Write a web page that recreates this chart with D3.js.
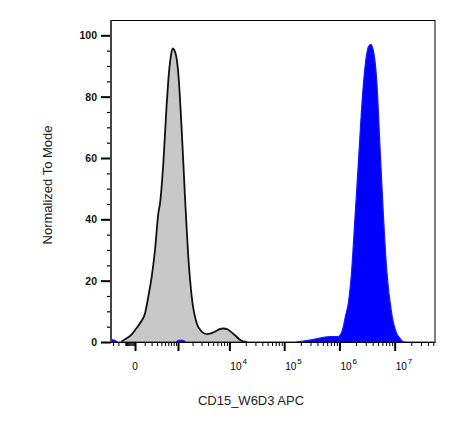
<!DOCTYPE html>
<html>
<head>
<meta charset="utf-8">
<script src="https://cdn.jsdelivr.net/npm/d3@7"></script>
<style>
  body { margin: 0; background: #fff; }
  svg { display: block; }
  text { font-family: Arial, "Liberation Sans", sans-serif; }
</style>
</head>
<body>
<div id="chart"></div>
<script>
// grey histogram (unstained / control), x in channel units, y in % of mode
var greyX = [-158, -83, -29, 8.5, 46, 103, 148, 201, 260, 328, 367, 450, 549, 601, 685, 762, 904, 1015, 1200, 1406, 1643, 1924, 2416, 3020, 3768, 4546, 5406, 6423, 7720, 9040, 10720, 12700, 15050, 18000, 21100];
var greyY = [0, 1.2, 2.5, 4.3, 6.1, 9.3, 14.8, 21.3, 30, 41.9, 45.2, 58.2, 77.7, 85.3, 92.9, 95.7, 93.5, 87.5, 69, 47.3, 27.8, 14.8, 6.1, 3.4, 2.6, 2.8, 3.4, 4.1, 4.4, 4.2, 3.3, 2.2, 1.0, 0.2, 0];

// blue histogram (CD15 stained)
var blueX = [-344, -280, -206, 904, 1000, 1160, 1340, 1475, 156900, 221800, 332600, 511000, 704000, 955000, 1091000, 1177000, 1290000, 1449000, 1669000, 1916000, 2199000, 2534000, 2908000, 3337000, 3688000, 4108000, 4733000, 5431000, 6232000, 7180000, 8840000, 10890000, 12500000, 14340000, 16730000, 53700000];
var blueY = [0.8, 0.6, 0, 0, 0.5, 0.6, 0.4, 0, 0, 0.3, 0.8, 1.5, 1.8, 1.8, 3, 5, 8.5, 12.6, 23.5, 40.8, 58.2, 76.6, 89.7, 96.2, 97.1, 95.1, 85.3, 63.6, 41.9, 23.5, 9.3, 2.8, 1.2, 0.1, 0, 0];

var yMajor = [0, 20, 40, 60, 80, 100];
var xMajor = [0, 1e3, 1e4, 1e5, 1e6, 1e7];
var xLabelValues = [0, 1e4, 1e5, 1e6, 1e7];
var xLabelExps = ["", "4", "5", "6", "7"];
var xTitle = "CD15_W6D3 APC";
var yTitle = "Normalized To Mode";

var size = {width: 475, height: 430, left: 111, right: 435, top: 20, bottom: 342};

var xScale = d3.scaleSymlog().constant(200)
  .domain([-344, 5.37e7])
  .range([size.left, size.right]);
var yScale = d3.scaleLinear()
  .domain([0, 105])
  .range([size.bottom, size.top]);

// minor ticks: linear part near zero, then 2..9 x each decade
var xMinor = [-300, -200, -100];
for (var i = -90; i < 0; i += 10) xMinor.push(i);
for (var e = 2; e <= 7; e++) {
  for (var m = (e == 2 ? 1 : 2); m <= 9; m++) xMinor.push(m * Math.pow(10, e));
}
xMinor = xMinor.filter(d => d <= xScale.domain()[1]);
var yMinor = d3.range(5, 105, 5).filter(d => d % 20 != 0);

var svg = d3.select("#chart").append("svg")
  .attr("width", size.width)
  .attr("height", size.height);

svg.append("defs").append("clipPath")
  .attr("id", "plot")
  .append("rect")
  .attr("x", size.left)
  .attr("y", size.top)
  .attr("width", size.right - size.left)
  .attr("height", size.bottom - size.top + 1);

// frame
svg.append("rect")
  .attr("x", size.left)
  .attr("y", size.top + 0.5)
  .attr("width", size.right - size.left)
  .attr("height", size.bottom - size.top)
  .attr("fill", "none")
  .attr("stroke", "#000")
  .attr("stroke-width", 1);

var grey = greyX.map((x, i) => ({x: x, y: greyY[i]}));
var blue = blueX.map((x, i) => ({x: x, y: blueY[i]}));

var area = d3.area()
  .x(d => xScale(d.x))
  .y0(yScale(0))
  .y1(d => yScale(d.y))
  .curve(d3.curveMonotoneX);
var line = d3.line()
  .x(d => xScale(d.x))
  .y(d => yScale(d.y))
  .curve(d3.curveMonotoneX);

var plot = svg.append("g").attr("clip-path", "url(#plot)");

plot.append("path")
  .datum(grey)
  .attr("d", area)
  .attr("fill", "#c8c8c8");
plot.append("path")
  .datum(grey)
  .attr("d", line)
  .attr("fill", "none")
  .attr("stroke", "#111")
  .attr("stroke-width", 1.8)
  .attr("stroke-linejoin", "round");

plot.append("path")
  .datum(blue)
  .attr("d", area)
  .attr("fill", "#0000ff");
plot.append("path")
  .datum(blue)
  .attr("d", line)
  .attr("fill", "none")
  .attr("stroke", "#1a1aff")
  .attr("stroke-width", 1.2);

// x axis
var xAxisMinor = svg.append("g")
  .attr("transform", "translate(0," + size.bottom + ")")
  .call(d3.axisBottom(xScale).tickValues(xMinor).tickSize(4).tickSizeOuter(0).tickFormat(""));
var xAxisMajor = svg.append("g")
  .attr("transform", "translate(0," + size.bottom + ")")
  .call(d3.axisBottom(xScale).tickValues(xMajor).tickSize(9).tickSizeOuter(0).tickFormat(""));
xAxisMinor.select(".domain").remove();
xAxisMajor.select(".domain").attr("stroke", "#000");
xAxisMinor.selectAll("line").attr("stroke", "#000").attr("stroke-width", 1);
xAxisMajor.selectAll("line").attr("stroke", "#000").attr("stroke-width", 2);

var xLab = svg.append("g").selectAll("text")
  .data(xLabelValues)
  .enter()
  .append("text")
  .attr("y", 370)
  .attr("font-size", 10)
  .attr("fill", "#000")
  .attr("x", (d, i) => xLabelExps[i] ? xScale(d) + 1 : xScale(d))
  .attr("text-anchor", (d, i) => xLabelExps[i] ? "start" : "middle");
xLab.append("tspan").text((d, i) => xLabelExps[i] ? "10" : "0");
xLab.append("tspan")
  .attr("dy", -6)
  .attr("dx", 1)
  .attr("font-size", 8)
  .text((d, i) => xLabelExps[i]);

// y axis
var yAxisMinor = svg.append("g")
  .attr("transform", "translate(" + size.left + ",0)")
  .call(d3.axisLeft(yScale).tickValues(yMinor).tickSize(4).tickSizeOuter(0).tickFormat(""));
var yAxisMajor = svg.append("g")
  .attr("transform", "translate(" + size.left + ",0)")
  .call(d3.axisLeft(yScale).tickValues(yMajor).tickSize(10).tickSizeOuter(0).tickPadding(4));
yAxisMinor.select(".domain").remove();
yAxisMajor.select(".domain").remove();
yAxisMinor.selectAll("line").attr("stroke", "#000").attr("stroke-width", 1.2);
yAxisMajor.selectAll("line").attr("stroke", "#000").attr("stroke-width", 2);
yAxisMajor.selectAll("text")
  .attr("font-size", 10.5)
  .attr("font-weight", "bold")
  .attr("font-family", "Arial, 'Liberation Sans', sans-serif")
  .attr("fill", "#111");

svg.append("line")
  .attr("x1", size.left).attr("x2", size.left)
  .attr("y1", size.top).attr("y2", size.bottom)
  .attr("stroke", "#444")
  .attr("stroke-width", 2);

// titles
svg.append("text")
  .attr("x", 251)
  .attr("y", 405)
  .attr("text-anchor", "middle")
  .attr("font-size", 13)
  .attr("fill", "#222")
  .text(xTitle);

svg.append("text")
  .attr("transform", "translate(52,185) rotate(-90)")
  .attr("text-anchor", "middle")
  .attr("font-size", 13)
  .attr("fill", "#222")
  .text(yTitle);
</script>
</body>
</html>
